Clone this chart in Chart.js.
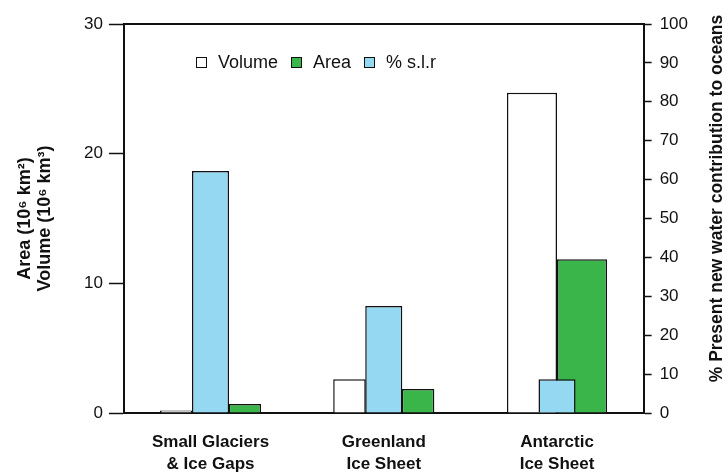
<!DOCTYPE html>
<html>
<head>
<meta charset="utf-8">
<script src="https://cdn.jsdelivr.net/npm/chart.js@4.4.1/dist/chart.umd.min.js"></script>
<style>
html, body { margin: 0; padding: 0; background: #fff; }
#wrap { position: relative; width: 728px; height: 475px; }
#legendaEs {
    position: absolute; left: 196px; top: 52px; height: 20px;
    display: flex; align-items: center;
    font: 18px "Liberation Sans", Arial, sans-serif; color: #111;
}
#legendaEs .item { display: flex; align-items: center; margin-right: 13px; white-space: nowrap; }
#legendaEs .kotak { box-sizing: border-box; width: 11px; height: 11px; border: 1.5px solid #111; margin-right: 11px; }
</style>
</head>
<body>
<div id="wrap"><canvas id="grafikEs"></canvas><div id="legendaEs"></div></div>
<script>
// Data
const categories = [['Small Glaciers', '& Ice Gaps'], ['Greenland', 'Ice Sheet'], ['Antarctic', 'Ice Sheet']];
const volumeValues = [0.2, 2.6, 24.7];    // 10^6 km3 (sumbu kiri)
const areaValues = [0.7, 1.85, 11.85];    // 10^6 km2 (sumbu kiri)
const slrValues = [62.2, 27.5, 8.7];      // % (sumbu kanan)
const leftTicks = [0, 10, 20, 30];
const rightTicks = [0, 10, 20, 30, 40, 50, 60, 70, 80, 90, 100];
const legendOrder = ['Volume', 'Area', '% s.l.r'];
const leftTitle = ['Area (10\u2076 km\u00b2)', 'Volume (10\u2076 km\u00b3)'];
const rightTitle = '% Present new water contribution to oceans';

// kategori Antarctic digambar dengan batang yang lebih lebar dan bertumpuk
const wideIndex = 2;

const ink = '#111';
const blue = '#94d8f2';
const green = '#3ab54a';

function onlyNormal(arr) { return arr.map((v, i) => i === wideIndex ? null : v); }
function onlyWide(arr) { return arr.map((v, i) => i === wideIndex ? v : null); }

// Chart.js menghitung padding tick dua kali, kurangi satu
function fitOnce(scale) {
    if (scale.isHorizontal()) {
        scale.height -= scale.options.ticks.padding;
    } else {
        scale.width -= scale.options.ticks.padding;
    }
}

// Plugin: garis atas bingkai + judul sumbu kanan (dibaca dari bawah ke atas)
const bingkai = {
    id: 'bingkai',
    afterDraw(chart) {
        const ctx = chart.ctx;
        const ca = chart.chartArea;
        ctx.save();
        ctx.strokeStyle = ink;
        ctx.lineWidth = 2;
        ctx.beginPath();
        ctx.moveTo(ca.left - 1, ca.top);
        ctx.lineTo(ca.right + 1, ca.top);
        ctx.stroke();
        ctx.translate(chart.width - 11, (ca.top + ca.bottom) / 2 - 20);
        ctx.rotate(-Math.PI / 2);
        ctx.fillStyle = ink;
        ctx.font = 'bold 17.5px "Liberation Sans", Arial, sans-serif';
        ctx.textAlign = 'center';
        ctx.textBaseline = 'middle';
        ctx.fillText(rightTitle, 0, 0);
        ctx.restore();
    }
};

Chart.defaults.font.family = '"Liberation Sans", Arial, sans-serif';
Chart.defaults.color = ink;

const common = { borderColor: ink, borderWidth: 1.5, skipNull: true };

const chart = new Chart(document.getElementById('grafikEs'), {
    type: 'bar',
    data: {
        labels: categories,
        datasets: [
            Object.assign({ label: '% s.l.r', data: slrValues, yAxisID: 'y2', backgroundColor: blue,
                grouped: false, categoryPercentage: 1, barPercentage: 0.214 }, common),
            Object.assign({ label: 'Volume', data: onlyNormal(volumeValues), yAxisID: 'y', stack: 'vol',
                backgroundColor: '#fff', categoryPercentage: 0.792, barPercentage: 0.474 }, common),
            Object.assign({ label: 'Area', data: onlyNormal(areaValues), yAxisID: 'y', stack: 'area',
                backgroundColor: green, categoryPercentage: 0.792, barPercentage: 0.474 }, common),
            Object.assign({ label: 'Volume', data: onlyWide(volumeValues), yAxisID: 'y', stack: 'volW',
                backgroundColor: '#fff', categoryPercentage: 0.578, barPercentage: 1 }, common),
            Object.assign({ label: 'Area', data: onlyWide(areaValues), yAxisID: 'y', stack: 'areaW',
                backgroundColor: green, categoryPercentage: 0.578, barPercentage: 1 }, common)
        ]
    },
    options: {
        responsive: true,
        maintainAspectRatio: false,
        animation: false,
        layout: { padding: { left: 0, right: 40, top: 24, bottom: 0 } },
        plugins: {
            tooltip: { enabled: false },
            legend: { display: false }
        },
        scales: {
            x: {
                afterFit: fitOnce,
                grid: { display: false, drawTicks: false },
                border: { display: true, color: ink, width: 2 },
                ticks: { font: { size: 17, weight: 'bold', lineHeight: 22 / 17 }, padding: 18, color: ink, maxRotation: 0 }
            },
            y: {
                position: 'left',
                min: 0,
                max: 30,
                afterFit: fitOnce,
                afterBuildTicks: axis => { axis.ticks = leftTicks.map(v => ({ value: v })); },
                grid: { drawOnChartArea: false, tickLength: 15, tickColor: ink, tickWidth: 1.5 },
                border: { color: ink, width: 2 },
                ticks: { font: { size: 17 }, padding: 6, color: ink },
                title: {
                    display: true,
                    text: leftTitle,
                    font: { size: 18, weight: 'bold', lineHeight: 20 / 18 },
                    padding: { top: 15, bottom: 29 },
                    color: ink
                }
            },
            y2: {
                position: 'right',
                min: 0,
                max: 100,
                afterFit: fitOnce,
                afterBuildTicks: axis => { axis.ticks = rightTicks.map(v => ({ value: v })); },
                grid: { drawOnChartArea: false, tickLength: 8, tickColor: ink, tickWidth: 1.5 },
                border: { color: ink, width: 2 },
                ticks: { font: { size: 17 }, padding: 8, color: ink }
            }
        }
    },
    plugins: [bingkai]
});

// Legenda HTML (teks asli), urutan seperti gambar
function buatLegenda(ch) {
    const wadah = document.getElementById('legendaEs');
    legendOrder.forEach(nama => {
        const ds = ch.data.datasets.find(d => d.label === nama);
        const item = document.createElement('span');
        item.className = 'item';
        const kotak = document.createElement('span');
        kotak.className = 'kotak';
        kotak.style.background = ds.backgroundColor;
        kotak.style.borderColor = ds.borderColor;
        const teks = document.createElement('span');
        teks.textContent = nama;
        item.appendChild(kotak);
        item.appendChild(teks);
        wadah.appendChild(item);
    });
}
buatLegenda(chart);
</script>
</body>
</html>
